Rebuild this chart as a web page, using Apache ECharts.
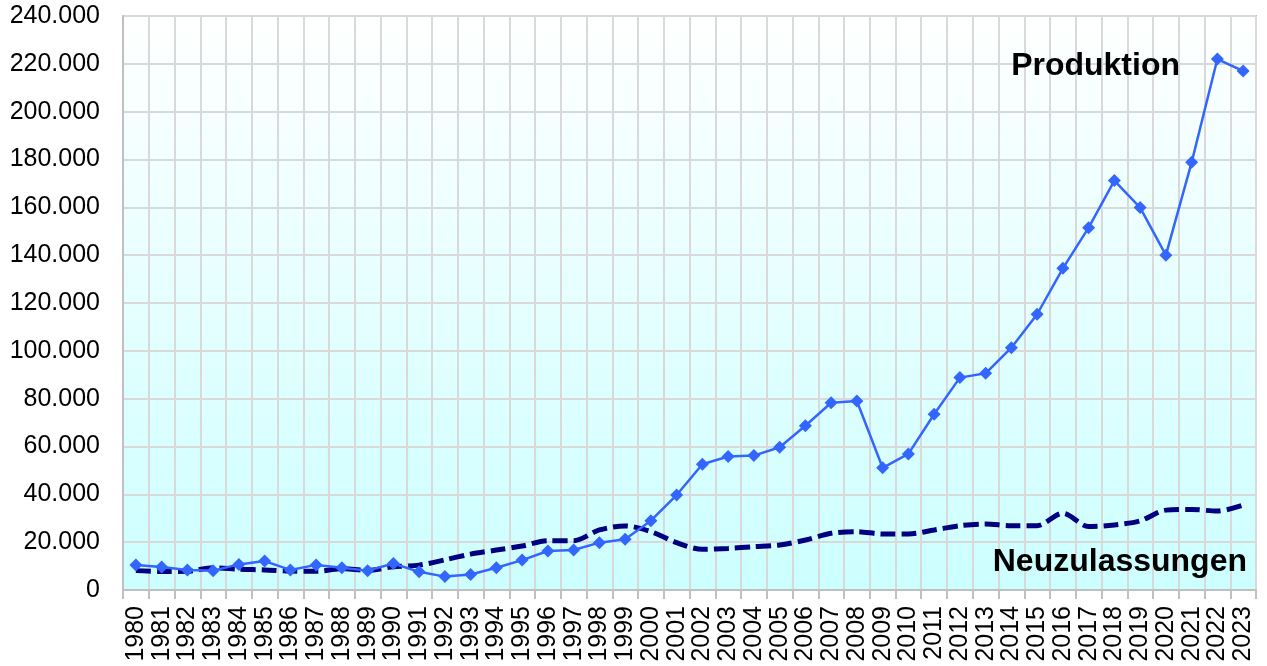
<!DOCTYPE html>
<html>
<head>
<meta charset="utf-8">
<script src="https://cdn.jsdelivr.net/npm/echarts@6/dist/echarts.min.js"></script>
<style>html,body{margin:0;padding:0;background:#fff;}#c{width:1267px;height:666px;}</style>
</head>
<body>
<div id="c"></div>
<script>
var years = [];
for (var y = 1980; y <= 2023; y++) years.push(String(y));

var produktion = [10500, 9600, 8400, 8100, 10700, 12100, 8400, 10500, 9300, 8100,
  11100, 7600, 5600, 6500, 9300, 12500, 16300, 16700, 19800, 21200,
  29000, 39700, 52600, 55800, 56200, 59700, 68700, 78300, 79000, 51100,
  56900, 73500, 88800, 90600, 101300, 115300, 134500, 151500, 171200, 159900,
  140000, 178800, 222000, 217000];

var neuzulassungen = [8100, 7700, 7800, 9300, 8700, 8400, 7900, 7800, 8900, 8200,
  9700, 10400, 12600, 15000, 16700, 18400, 20600, 20600, 25100, 26800,
  24400, 19800, 17000, 17400, 18100, 18800, 20900, 23700, 24400, 23400,
  23400, 25100, 26900, 27600, 26900, 26900, 32100, 26500, 27200, 28900,
  33400, 33700, 33000, 35500];

var yTicks = { min: 0, max: 240000, interval: 20000 };
var labelProduktion = 'Produktion';
var labelNeuzulassungen = 'Neuzulassungen';

function fmt(v) { return String(v).replace(/\B(?=(\d{3})+(?!\d))/g, '.'); }

var chart = echarts.init(document.getElementById('c'));
chart.setOption({
  animation: false,
  backgroundColor: '#ffffff',
  grid: {
    left: 123, right: 11, top: 16, bottom: 76,
    show: true,
    borderColor: '#c0c0c0', borderWidth: 2,
    backgroundColor: new echarts.graphic.LinearGradient(0, 0, 0, 1, [
      { offset: 0, color: '#ffffff' },
      { offset: 1, color: '#ccffff' }
    ])
  },
  xAxis: {
    type: 'category',
    data: years,
    boundaryGap: true,
    axisLine: { lineStyle: { color: '#c0c0c0', width: 2 } },
    axisTick: { show: true, length: 9, lineStyle: { color: '#c0c0c0', width: 2 }, alignWithLabel: false },
    splitLine: { show: true, lineStyle: { color: '#d9d9d9', width: 2 } },
    axisLabel: {
      rotate: 90, interval: 0, margin: 16,
      fontFamily: 'Liberation Sans, Arial, sans-serif', fontSize: 25, color: '#000'
    }
  },
  yAxis: {
    type: 'value',
    min: yTicks.min, max: yTicks.max, interval: yTicks.interval,
    axisLine: { show: true, lineStyle: { color: '#c0c0c0', width: 2 } },
    axisTick: { show: false },
    splitLine: { show: true, lineStyle: { color: '#d9d9d9', width: 2 } },
    axisLabel: {
      margin: 23, formatter: fmt,
      fontFamily: 'Liberation Sans, Arial, sans-serif', fontSize: 25, color: '#000'
    }
  },
  series: [
    {
      name: labelNeuzulassungen,
      type: 'line',
      data: neuzulassungen,
      smooth: 0.3,
      showSymbol: false,
      lineStyle: { color: '#000080', width: 5, type: [15, 6] },
      z: 2
    },
    {
      name: labelProduktion,
      type: 'line',
      data: produktion,
      symbol: 'diamond',
      symbolSize: 13,
      itemStyle: { color: '#3366ff' },
      lineStyle: { color: '#3366ff', width: 2.5 },
      z: 3
    }
  ],
  graphic: [
    { type: 'text', z: 100, right: 87, top: 50, style: { text: labelProduktion, font: 'bold 32px Liberation Sans, Arial, sans-serif', fill: '#000' } },
    { type: 'text', z: 100, right: 20, top: 546, style: { text: labelNeuzulassungen, font: 'bold 32px Liberation Sans, Arial, sans-serif', fill: '#000' } }
  ]
});
</script>
</body>
</html>
